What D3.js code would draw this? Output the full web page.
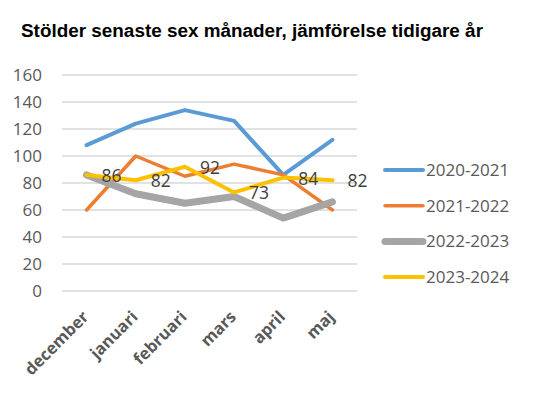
<!DOCTYPE html>
<html>
<head>
<meta charset="utf-8">
<script src="https://cdn.jsdelivr.net/npm/d3@7"></script>
<style>
  body { margin: 0; background: #fff; }
  svg { display: block; }
</style>
</head>
<body>
<div id="chart"></div>
<script>
// Data
const months = ['december', 'januari', 'februari', 'mars', 'april', 'maj'];
const seriesNames = ['2020-2021', '2021-2022', '2022-2023', '2023-2024'];
const s2020 = [108, 124, 134, 126, 86, 112];
const s2021 = [60, 100, 85, 94, 86, 60];
const s2022 = [86, 72, 65, 70, 54, 66];
const s2023 = [86, 82, 92, 73, 84, 82];
const yTicks = [0, 20, 40, 60, 80, 100, 120, 140, 160];

const colors = ['#5B9BD5', '#ED7D31', '#A5A5A5', '#FFC000'];
const widths = [4, 3.5, 7, 4];

const series = [s2020, s2021, s2022, s2023].map((values, i) => ({
    name: seriesNames[i],
    values: values.map((v, j) => ({ month: months[j], value: v }))
}));

const W = 542, H = 394;
const plot = { left: 62, right: 357, top: 75, bottom: 291 };

const svg = d3.select('#chart').append('svg')
    .attr('width', W)
    .attr('height', H);

svg.append('rect').attr('width', W).attr('height', H).attr('fill', '#fff');

// Title
svg.append('text')
    .attr('x', 21)
    .attr('y', 37)
    .style('font-family', '"Liberation Sans", Arial, sans-serif')
    .style('font-weight', 'bold')
    .style('font-size', '18.9px')
    .style('fill', '#000')
    .text('Stölder senaste sex månader, jämförelse tidigare år');

const x = d3.scaleBand()
    .domain(months)
    .range([plot.left, plot.right]);

const y = d3.scaleLinear()
    .domain([0, 160])
    .range([plot.bottom, plot.top]);

// Gridlines
svg.append('g')
    .selectAll('line')
    .data(yTicks)
    .enter().append('line')
    .attr('x1', plot.left)
    .attr('x2', plot.right)
    .attr('y1', d => y(d))
    .attr('y2', d => y(d))
    .attr('stroke', '#d9d9d9')
    .attr('stroke-width', 1.3);

// Y axis labels
const yAxis = svg.append('g')
    .attr('transform', `translate(${plot.left},0)`)
    .call(d3.axisLeft(y).tickValues(yTicks).tickSize(0).tickPadding(20));
yAxis.select('.domain').remove();
yAxis.selectAll('text')
    .style('font-family', '"Open Sans", sans-serif')
    .style('font-size', '17px')
    .style('fill', '#595959');

// X axis labels, rotated
const xAxis = svg.append('g')
    .attr('transform', `translate(0,${plot.bottom})`)
    .call(d3.axisBottom(x).tickSize(0).tickFormat(''));
xAxis.select('.domain').remove();

svg.append('g')
    .selectAll('text')
    .data(months)
    .enter().append('text')
    .attr('transform', d => `translate(${x(d) + x.bandwidth() / 2 + 3},${plot.bottom + 27}) rotate(-45)`)
    .attr('text-anchor', 'end')
    .style('font-family', '"Open Sans", sans-serif')
    .style('font-weight', 'bold')
    .style('font-size', '16.5px')
    .style('fill', '#595959')
    .text(d => d);

// Lines
const line = d3.line()
    .x(d => x(d.month) + x.bandwidth() / 2)
    .y(d => y(d.value));

series.forEach((s, i) => {
    svg.append('path')
        .datum(s.values)
        .attr('d', line)
        .attr('fill', 'none')
        .attr('stroke', colors[i])
        .attr('stroke-width', widths[i])
        .attr('stroke-linejoin', 'round')
        .attr('stroke-linecap', 'round');
});

// Data labels for the latest season
svg.append('g')
    .selectAll('text')
    .data(series[3].values)
    .enter().append('text')
    .attr('x', d => x(d.month) + x.bandwidth() / 2 + 15)
    .attr('y', d => y(d.value))
    .attr('dy', '0.4em')
    .style('font-family', '"Open Sans", sans-serif')
    .style('font-size', '17.5px')
    .style('fill', '#404040')
    .text(d => d.value);

// Legend
const legend = svg.append('g')
    .attr('transform', 'translate(385,170)');

series.forEach((s, i) => {
    const row = legend.append('g')
        .attr('transform', `translate(0,${i * 35.7})`);
    row.append('line')
        .attr('x1', 0)
        .attr('x2', 38)
        .attr('stroke', colors[i])
        .attr('stroke-width', widths[i])
        .attr('stroke-linecap', 'round');
    row.append('text')
        .attr('x', 41)
        .attr('dy', '0.35em')
        .style('font-family', '"Open Sans", sans-serif')
        .style('font-size', '17px')
        .style('fill', '#595959')
        .text(s.name);
});
</script>
</body>
</html>
